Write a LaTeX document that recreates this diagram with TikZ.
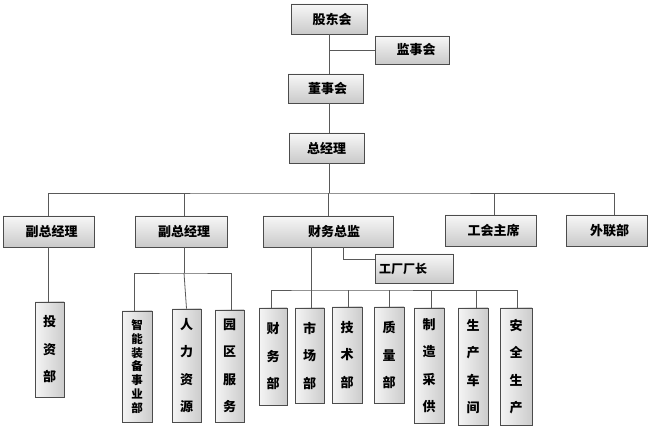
\documentclass[tikz,border=0pt]{standalone}
\usepackage{fontspec}
\newfontfamily\cjk{Noto Sans CJK SC}
\usetikzlibrary{shadows}
\begin{document}
\begin{tikzpicture}[x=1pt,y=-1pt,
  base/.style={draw=black!70,line width=0.8pt,inner sep=0pt,
    drop shadow={shadow xshift=1.2pt,shadow yshift=-1.2pt,opacity=0.45,fill=black!60}},
  hbox/.style={base,top color=gray!6,bottom color=gray!42,
    font=\cjk\bfseries\fontsize{13}{15}\selectfont},
  vbox/.style={base,left color=gray!8,right color=gray!40,align=center,
    font=\cjk\bfseries\fontsize{13}{27.5}\selectfont},
  vsmall/.style={base,left color=gray!8,right color=gray!40,align=center,
    font=\cjk\bfseries\fontsize{11.5}{13.8}\selectfont},
  conn/.style={draw=black!65,line width=0.8pt}]
\useasboundingbox (0,0) rectangle (656,427);
% top chain
\node[hbox,minimum width=76pt,minimum height=30pt] (gd) at (329,19) {\hspace*{6pt}股东会};
\node[hbox,minimum width=74pt,minimum height=28pt] (jsh) at (412,50) {\hspace*{8pt}监事会};
\node[hbox,minimum width=75pt,minimum height=29pt] (dsh) at (325.5,88.5) {\hspace*{4pt}董事会};
\node[hbox,minimum width=75pt,minimum height=30pt] (zjl) at (326.5,148) {总经理};
% row 2
\node[hbox,minimum width=91pt,minimum height=31pt] (fz1) at (48.5,231.5) {\hspace*{6pt}副总经理};
\node[hbox,minimum width=92pt,minimum height=31pt] (fz2) at (181,231.5) {\hspace*{6pt}副总经理};
\node[hbox,minimum width=130pt,minimum height=31pt] (cw) at (328,231.5) {\hspace*{12pt}财务总监};
\node[hbox,minimum width=91pt,minimum height=31pt] (gh) at (490.5,230.5) {\hspace*{6pt}工会主席};
\node[hbox,minimum width=81pt,minimum height=31pt] (wl) at (606.5,230.5) {\hspace*{6pt}外联部};
\node[hbox,minimum width=78pt,minimum height=29pt,font=\cjk\bfseries\fontsize{12}{14}\selectfont] (cz) at (414,268.5) {工厂厂长\hspace*{22pt}};
% row 3 left
\node[vbox,minimum width=29pt,minimum height=95pt] (tz) at (49.5,349.5) {投\\资\\部};
\node[vsmall,minimum width=30pt,minimum height=111pt] (zn) at (137,366.5) {智\\能\\装\\备\\事\\业\\部};
\node[vbox,minimum width=29pt,minimum height=113pt] (rl) at (186.5,365.5) {人\\力\\资\\源};
\node[vbox,minimum width=29pt,minimum height=112pt] (yq) at (229.5,366) {园\\区\\服\\务};
% finance children
\node[vbox,minimum width=28pt,minimum height=97pt] (cwb) at (273,356.5) {财\\务\\部};
\node[vbox,minimum width=29pt,minimum height=95pt] (sc) at (309.5,355.5) {市\\场\\部};
\node[vbox,minimum width=30pt,minimum height=96pt] (jsb) at (347,355) {技\\术\\部};
\node[vbox,minimum width=30pt,minimum height=96pt] (zl) at (389,355) {质\\量\\部};
\node[vbox,minimum width=30pt,minimum height=115pt] (zz) at (429,365.5) {制\\造\\采\\供};
\node[vbox,minimum width=30pt,minimum height=117pt] (scj) at (473,366.5) {生\\产\\车\\间};
\node[vbox,minimum width=32pt,minimum height=117pt] (aq) at (516,366.5) {安\\全\\生\\产};
% coordinates
\coordinate (r2) at (329,193);
\coordinate (r3a) at (184,273);
\coordinate (r3b) at (311,290);
\coordinate (czk) at (343,259);
% connectors
\draw[conn] (gd.south) -- (gd.south |- dsh.north);
\draw[conn] (gd.south |- jsh.west) -- (jsh.west);
\draw[conn] (gd.south |- dsh.south) -- (gd.south |- zjl.north);
\draw[conn] (gd.south |- zjl.south) -- (r2);
\draw[conn] (fz1.north) |- (r2) -| ([xshift=7.5pt]wl.north);
\draw[conn] ([xshift=3pt]fz2.north) -- ([xshift=3pt]fz2.north |- r2);
\draw[conn] (cw.north) -- (cw.north |- r2);
\draw[conn] ([xshift=3.5pt]gh.north) -- ([xshift=3.5pt]gh.north |- r2);
\draw[conn] ([xshift=15pt]cw.south) |- (czk) -- (cz.west |- czk);
\draw[conn] (fz1.south) -- (fz1.south |- tz.north);
\draw[conn] ([xshift=3pt]fz2.south) -- (r3a);
\draw[conn] ([xshift=-3pt]zn.north) |- (r3a) -| ([xshift=1.5pt]yq.north);
\draw[conn] (r3a) -- (rl.north);
\draw[conn] ([xshift=-17pt]cw.south) -- (r3b);
\draw[conn] ([xshift=-2pt]cwb.north) |- (r3b) -| ([xshift=1pt]aq.north);
\foreach \n/\dx in {sc/1.5,jsb/1,zl/0,zz/2,scj/3}
  \draw[conn] ([xshift=\dx pt]\n.north) -- ([xshift=\dx pt]\n.north |- r3b);
\end{tikzpicture}
\end{document}
